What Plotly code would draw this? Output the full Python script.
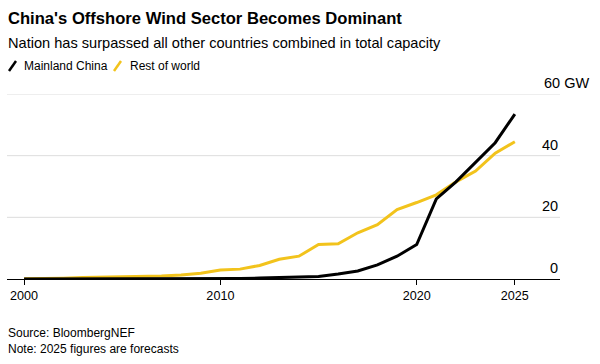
import plotly.graph_objects as go

years = list(range(2000, 2026))
mainland_china = [0.0, 0.0, 0.0, 0.0, 0.0, 0.0, 0.0, 0.0, 0.0, 0.05, 0.1, 0.2, 0.3, 0.4, 0.5,
                  0.8, 1.6, 2.6, 4.6, 7.4, 11.2, 26.0, 31.5, 37.8, 44.2, 53.5]
rest_of_world = [0.05, 0.1, 0.25, 0.45, 0.55, 0.65, 0.8, 1.0, 1.3, 1.9, 2.9, 3.2, 4.4, 6.4, 7.4,
                 11.2, 11.4, 15.0, 17.6, 22.5, 24.8, 27.3, 31.5, 35.0, 40.8, 44.5]
y_ticks = [0, 20, 40, 60]
y_tick_labels = ["0", "20", "40", "60 GW"]
x_ticks = [2000, 2010, 2020, 2025]

BLACK = "#000000"
YELLOW = "#f2c31c"
FONT = "Liberation Sans, Arial, sans-serif"

plot_l, plot_r, plot_t, plot_b = 7, 560, 94, 279
pw, ph = plot_r - plot_l, plot_b - plot_t
X_MIN, X_MAX = 1999.13, 2027.3

fig = go.Figure()
fig.add_trace(go.Scatter(x=years, y=rest_of_world, mode="lines", name="Rest of world",
                         line=dict(color=YELLOW, width=3), cliponaxis=False))
fig.add_trace(go.Scatter(x=years, y=mainland_china, mode="lines", name="Mainland China",
                         line=dict(color=BLACK, width=3), cliponaxis=False))

texts = [
    ("<b>China's Offshore Wind Sector Becomes Dominant</b>", 6, 18, 16.6),
    ("Nation has surpassed all other countries combined in total capacity", 6, 43, 14.6),
    ("Mainland China", 22, 66, 12),
    ("Rest of world", 128, 66, 12),
    ("Source: BloombergNEF", 6, 333, 12),
    ("Note: 2025 figures are forecasts", 6, 349, 12),
]

def pxs(x, y):
    return (x - plot_l) / pw, (plot_b - y) / ph

final_ann = []
for t, px, py, sz in texts:
    ax, ay = pxs(px, py)
    final_ann.append(dict(text=t, x=ax, y=ay, xref="paper", yref="paper", showarrow=False,
                          xanchor="left", yanchor="middle", font=dict(size=sz, color="#000")))

for v, lab in zip(y_ticks, y_tick_labels):
    if lab.endswith("GW"):
        final_ann.append(dict(text=lab, x=(542 - plot_l) / pw, y=v, xref="paper", yref="y",
                              xanchor="left", yanchor="bottom", yshift=1, showarrow=False,
                              font=dict(size=14.5, color="#000")))
    else:
        final_ann.append(dict(text=lab, x=1, y=v, xref="paper", yref="y",
                              xanchor="right", yanchor="bottom", yshift=1, showarrow=False,
                              font=dict(size=14.5, color="#000")))

shapes = []
for v in y_ticks[1:]:
    shapes.append(dict(type="line", xref="paper", yref="y", x0=0, x1=1, y0=v, y1=v,
                       line=dict(color="#dddddd", width=1), layer="below"))
for x0, col in [(9, BLACK), (114, YELLOW)]:
    ax0, ay0 = pxs(x0, 71)
    ax1, ay1 = pxs(x0 + 7, 61)
    shapes.append(dict(type="line", xref="paper", yref="paper", x0=ax0, y0=ay0, x1=ax1, y1=ay1,
                       line=dict(color=col, width=2.5)))

fig.update_layout(
    width=600, height=364,
    margin=dict(l=plot_l, r=600 - plot_r, t=plot_t, b=364 - plot_b, autoexpand=False),
    plot_bgcolor="white", paper_bgcolor="white",
    font=dict(family=FONT, color="#000", size=12),
    showlegend=False,
    hovermode=False,
    xaxis=dict(range=[X_MIN, X_MAX], tickvals=x_ticks, ticks="outside", ticklen=5,
               tickcolor="#000", showline=True, linecolor="#000", linewidth=1,
               showgrid=False, zeroline=False, automargin=False,
               tickfont=dict(size=12.6, color="#000")),
    yaxis=dict(range=[0, 60], tickvals=y_ticks, showticklabels=False, showgrid=False,
               zeroline=False, ticks="", automargin=False),
    annotations=final_ann,
    shapes=shapes,
)

fig.write_html("out.html", config={"displayModeBar": False},
               post_script="document.body.style.margin='0';")
